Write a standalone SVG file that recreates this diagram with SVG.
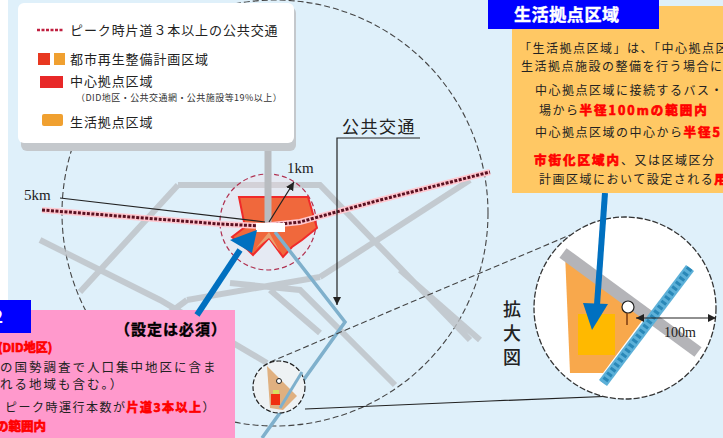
<svg xmlns="http://www.w3.org/2000/svg" width="723" height="438" viewBox="0 0 723 438">
<defs>
<style>
text{font-family:"Noto Sans CJK JP","Liberation Sans",sans-serif}
.road{fill:none;stroke:#bcc0c6;stroke-width:6;opacity:.8}
.blk{fill:none;stroke:#222;stroke-width:1.2}
.dash{fill:none;stroke:#444;stroke-width:1.1;stroke-dasharray:6 3}
.p{font-size:12px;letter-spacing:1.5px;fill:#222}
.pl{font-size:12.5px;letter-spacing:2px;fill:#222}
.r{font-weight:700;fill:#f00;stroke:#f00;stroke-width:.7}
.w{font-size:12.5px;letter-spacing:2px}
.lg{font-size:13px;letter-spacing:.9px;fill:#222}
.ser{font-family:"Liberation Serif",serif;fill:#222}
.blue{fill:none;stroke:#0070c0;stroke-width:6}
</style>
<marker id="ah" markerWidth="8" markerHeight="8" refX="7" refY="3.5" orient="auto-start-reverse"><path d="M0 0L7 3.5L0 7Z" fill="#222"/></marker>
</defs>
<rect width="723" height="438" fill="#dff0fa"/>
<rect x="0" y="0" width="8" height="300" fill="#fff"/>
<g id="base-map">
<circle cx="275" cy="213" r="213" class="dash"/>
<path class="road" d="M178 185H320L470 340M178 185L80 292M40 240L160 300L267 363M187 300L320 277M320 277L385 235L470 180M230 283L300 290L395 385M270 290L320 333M187 300L120 350M400 270L480 340"/>
<circle cx="268" cy="222" r="48" fill="#f2dfe6" fill-opacity=".35" stroke="#b03050" stroke-width="1.2" stroke-dasharray="5 3"/>
<path d="M239 197H308L317 228L302 240L292 247L283 257L269 238L253 255L248 250L232 237L245 227Z" fill="#f0683c" stroke="#f02a2a" stroke-width="2"/>
<path d="M256 248L269 238L280 252L269 232Z" fill="#e8a070"/>
<path d="M268 145V225" stroke="#b9bcc0" stroke-width="7"/>
</g>
<g id="connectors">
<path d="M275 232L345 322L262 438" fill="none" stroke="#7fb0cc" stroke-width="3.5"/>
<path d="M42 210L220 224L262 226L300 222L380 200L490 172" fill="none" stroke="#ffc8d0" stroke-width="6"/>
<path d="M42 210L220 224L262 226L300 222L380 200L490 172" fill="none" stroke="#5a1020" stroke-width="3" stroke-dasharray="3 1.5"/>
<path d="M60 198L265 222" class="blk"/>
<path d="M269 222L294 182" class="blk" marker-end="url(#ah)"/>
<path d="M420 138H337V305" class="blk" marker-end="url(#ah)"/>
<path d="M270 362L570 235" class="dash"/>
<path d="M305 409L490 401L640 395" class="blk"/>
<rect x="256" y="223" width="29" height="9" fill="#fff"/>
</g>
<g id="small-circle">
<circle cx="279" cy="387" r="26" fill="#eef2f4" stroke="#222" stroke-width="1.2" stroke-dasharray="5 2"/>
<path d="M267 366L297 396L283 410L270 408Z" fill="#e0b080"/>
<rect x="273" y="390" width="6" height="5" fill="#d8e060"/>
<rect x="271" y="394" width="9" height="11" fill="#f03010"/>
<circle cx="279" cy="381" r="2.5" fill="#fff" stroke="#222"/>
<path d="M302 372L280 408" stroke="#7fb0cc" stroke-width="3"/>
</g>
<g id="legend">
<rect x="21" y="7" width="275" height="144" rx="6" fill="#c4c8cc"/>
<rect x="18" y="3" width="276" height="140" rx="6" fill="#fff"/>
<path d="M37 30H63" stroke="#c02040" stroke-width="2.5" stroke-dasharray="3 1.5"/>
<text class="lg" x="70" y="35">ピーク時片道３本以上の公共交通</text>
<rect x="38" y="53" width="12" height="12" fill="#e83820"/>
<rect x="54" y="53" width="11" height="12" fill="#f0a030"/>
<text class="lg" x="70" y="64">都市再生整備計画区域</text>
<rect x="40" y="76" width="23" height="12" fill="#e82828"/>
<text class="lg" x="70" y="86">中心拠点区域</text>
<text x="76" y="101" font-size="9" letter-spacing=".45" fill="#333">（DID地区・公共交通網・公共施設等19%以上）</text>
<rect x="42" y="114" width="21" height="12" rx="2" fill="#f0a030"/>
<text class="lg" x="70" y="127">生活拠点区域</text>
</g>
<g id="labels">
<text class="ser" x="287" y="173" font-size="15">1km</text>
<text class="ser" x="24" y="200" font-size="15">5km</text>
<text x="342" y="133" font-size="17" letter-spacing="1.5" fill="#222">公共交通</text>
</g>
<g id="enlarged">
<circle cx="625" cy="308" r="91" fill="#fff" stroke="#333" stroke-width="1.3" stroke-dasharray="6 2"/>
<path d="M565 253L650 310L603 373H570Z" fill="#f8a84c"/>
<path d="M563 253L698 352" stroke="#b4b4b8" stroke-width="12"/>
<path d="M690 268L603 383" stroke="#5cb0d8" stroke-width="10"/>
<path d="M690 268L603 383" stroke="#2a88b8" stroke-width="6" stroke-dasharray="3 3"/>
<circle cx="628" cy="307" r="6" fill="#fff" stroke="#222" stroke-width="1.2"/>
<path d="M627 313V325" stroke="#7a3a10" stroke-width="1.5"/>
<path d="M636 318H716" class="blk" marker-start="url(#ah)" marker-end="url(#ah)"/>
<text class="ser" x="664" y="337" font-size="14">100m</text>
<text x="503" y="316" font-size="18" font-weight="500" fill="#222">拡</text>
<text x="503" y="340" font-size="18" font-weight="500" fill="#222">大</text>
<text x="503" y="364" font-size="18" font-weight="500" fill="#222">図</text>
<rect x="578" y="314" width="37" height="41" fill="#ffb900"/>
<path d="M605 193L597 305" stroke="#0070c0" stroke-width="6"/>
<path d="M583 303L608 304L592 330Z" fill="#0070c0"/>
</g>
<g id="panel-life">
<rect x="512" y="6" width="211" height="187" fill="#ffc864"/>
<rect x="488" y="0" width="171" height="29" fill="#0000ff"/>
<text x="514" y="21" font-size="17" font-weight="700" fill="#fff" letter-spacing=".6" stroke="#fff" stroke-width=".4">生活拠点区域</text>
<text class="p" x="519" y="53">「生活拠点区域」は、「中心拠点区域</text>
<text class="p" x="521" y="71">生活拠点施設の整備を行う場合に</text>
<text class="p" x="535" y="95">中心拠点区域に接続するバス・鉄</text>
<text class="p" x="539" y="115">場から<tspan class="r w">半径100mの範囲内</tspan></text>
<text class="p" x="535" y="137">中心拠点区域の中心から<tspan class="r w">半径5</tspan></text>
<text class="p" x="534" y="165"><tspan class="r w">市街化区域内</tspan>、又は区域区分</text>
<text class="p" x="539" y="184">計画区域において設定される<tspan class="r w">用</tspan></text>
</g>
<g id="panel-center">
<rect x="0" y="310" width="235" height="128" fill="#ff99cc"/>
<rect x="0" y="300" width="31" height="33" fill="#0000ff"/>
<text x="-7" y="323" font-size="17" font-weight="700" fill="#fff">2</text>
<text x="115" y="335" font-size="15" font-weight="700" fill="#000" stroke="#000" stroke-width=".4" letter-spacing="1">（設定は必須）</text>
<text x="-2" y="352" font-size="12" class="r">(DID地区)</text>
<text class="pl" x="0" y="372">の国勢調査で人口集中地区に含ま</text>
<text class="pl" x="0" y="389" letter-spacing="0">れる地域も含む。）</text>
<text class="p" x="5" y="412" letter-spacing=".6">ピーク時運行本数が<tspan class="r">片道3本以上</tspan>）</text>
<text class="r" x="-4" y="431" font-size="12.5">の範囲内</text>
</g>
<g id="callout-arrow">
<path d="M197 315L240 250" class="blue"/>
<path d="M257 230L230 240L252 253Z" fill="#0070c0"/>
</g>
</svg>
